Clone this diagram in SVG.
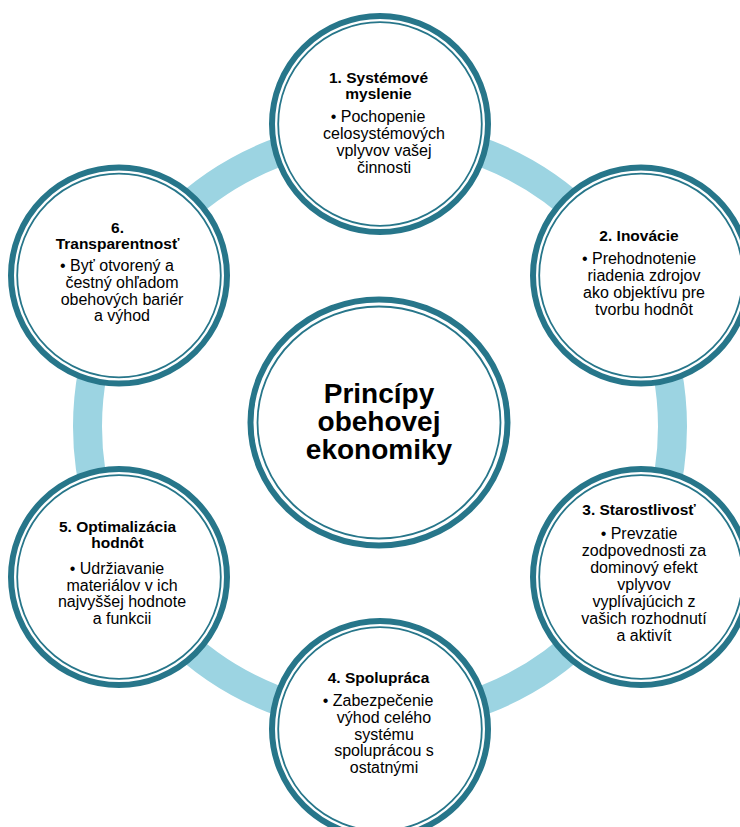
<svg xmlns="http://www.w3.org/2000/svg" width="740" height="827" viewBox="0 0 740 827">
<style>
.ring{fill:none;stroke:#9CD4E2;stroke-width:29}
.band{fill:#fff;stroke:#27768A;stroke-width:6}
.line{fill:none;stroke:#27768A;stroke-width:1.8}
.t{font-family:"Liberation Sans",Arial,sans-serif;font-size:15.5px;font-weight:bold;fill:#000;text-anchor:middle}
.b{font-family:"Liberation Sans",Arial,sans-serif;font-size:16px;fill:#000;text-anchor:middle}
.c{font-family:"Liberation Sans",Arial,sans-serif;font-size:28px;font-weight:bold;fill:#000;text-anchor:middle}
</style>
<rect width="740" height="827" fill="#fff"/>
<g id="connectors">
<circle class="ring" cx="380" cy="426.5" r="292.5"/>
</g>
<g id="center">
<ellipse class="band" cx="379" cy="422.5" rx="128.5" ry="123"/>
<ellipse class="line" cx="379" cy="422.5" rx="121.5" ry="116"/>
<text class="c" x="379" y="403">Princípy</text>
<text class="c" x="379" y="431">obehovej</text>
<text class="c" x="379" y="459">ekonomiky</text>
</g>
<g id="node1">
<circle class="band" cx="380" cy="124" r="108"/>
<circle class="line" cx="380" cy="124" r="101.8"/>
<text class="t" x="378.5" y="82.5">1. Systémové</text>
<text class="t" x="378.5" y="98.5">myslenie</text>
<text class="b" x="378" y="122">• Pochopenie</text>
<text class="b" x="384" y="139">celosystémových</text>
<text class="b" x="384" y="156">vplyvov vašej</text>
<text class="b" x="384" y="173">činnosti</text>
</g>
<g id="node2">
<circle class="band" cx="641" cy="275.5" r="108"/>
<circle class="line" cx="641" cy="275.5" r="101.8"/>
<text class="t" x="639" y="241">2. Inovácie</text>
<text class="b" x="639" y="263.5">• Prehodnotenie</text>
<text class="b" x="644" y="280.5">riadenia zdrojov</text>
<text class="b" x="644" y="297.5">ako objektívu pre</text>
<text class="b" x="644" y="314.5">tvorbu hodnôt</text>
</g>
<g id="node3">
<circle class="band" cx="641" cy="577" r="108"/>
<circle class="line" cx="641" cy="577" r="101.8"/>
<text class="t" x="639" y="515">3. Starostlivosť</text>
<text class="b" x="639" y="538.5">• Prevzatie</text>
<text class="b" x="644" y="555.5">zodpovednosti za</text>
<text class="b" x="644" y="572.5">dominový efekt</text>
<text class="b" x="644" y="589.5">vplyvov</text>
<text class="b" x="644" y="606.5">vyplívajúcich z</text>
<text class="b" x="644" y="623.5">vašich rozhodnutí</text>
<text class="b" x="644" y="640.5">a aktivít</text>
</g>
<g id="node4">
<circle class="band" cx="380" cy="729" r="108"/>
<circle class="line" cx="380" cy="729" r="101.8"/>
<text class="t" x="378.5" y="683">4. Spolupráca</text>
<text class="b" x="378" y="706">• Zabezpečenie</text>
<text class="b" x="384" y="723">výhod celého</text>
<text class="b" x="384" y="739.5">systému</text>
<text class="b" x="384" y="756">spoluprácou s</text>
<text class="b" x="384" y="772.5">ostatnými</text>
</g>
<g id="node5">
<circle class="band" cx="119" cy="577" r="108"/>
<circle class="line" cx="119" cy="577" r="101.8"/>
<text class="t" x="117.5" y="532">5. Optimalizácia</text>
<text class="t" x="117.5" y="548">hodnôt</text>
<text class="b" x="117" y="573.5">• Udržiavanie</text>
<text class="b" x="122" y="590.5">materiálov v ich</text>
<text class="b" x="122" y="607">najvyššej hodnote</text>
<text class="b" x="122" y="623.5">a funkcii</text>
</g>
<g id="node6">
<circle class="band" cx="119" cy="275.5" r="108"/>
<circle class="line" cx="119" cy="275.5" r="101.8"/>
<text class="t" x="117.5" y="232.5">6.</text>
<text class="t" x="117.5" y="248.5">Transparentnosť</text>
<text class="b" x="117" y="271">• Byť otvorený a</text>
<text class="b" x="122" y="288">čestný ohľadom</text>
<text class="b" x="122" y="304.5">obehových bariér</text>
<text class="b" x="122" y="321">a výhod</text>
</g>
</svg>
